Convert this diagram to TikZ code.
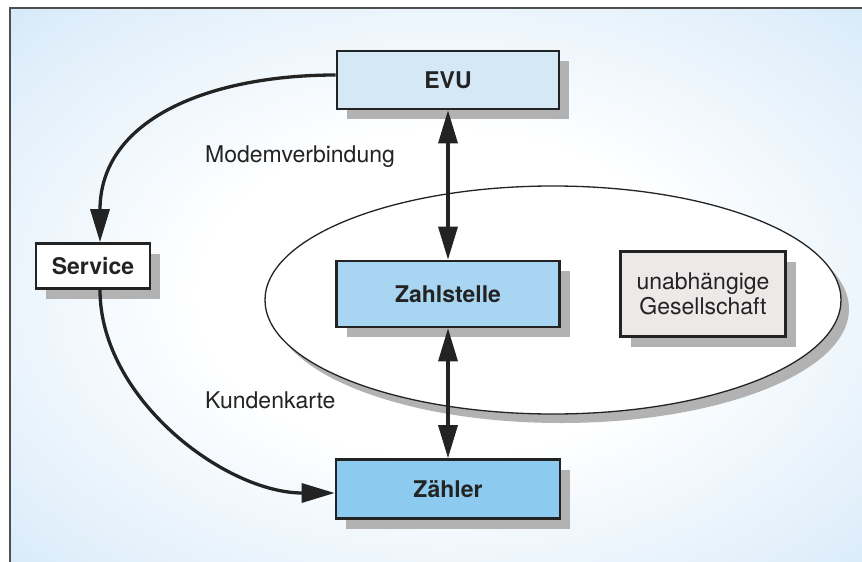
\documentclass[tikz,border=0pt]{standalone}
\usepackage{fontspec}
\setmainfont{TeX Gyre Heros}
\usetikzlibrary{arrows.meta}
\usetikzlibrary{shadows}
\usetikzlibrary{shapes.geometric}

\definecolor{bgblue}{RGB}{160,205,240}
\definecolor{evublue}{RGB}{212,232,246}
\definecolor{zahlblue}{RGB}{168,213,242}
\definecolor{zaehlerblue}{RGB}{140,202,240}
\definecolor{firmgray}{RGB}{236,233,232}
\definecolor{ink}{RGB}{35,35,35}
\pgfdeclareradialshading{bgshade}{\pgfpoint{0bp}{0bp}}{color(0bp)=(white); color(14bp)=(white);
  color(32bp)=(bgblue!35!white); color(50bp)=(bgblue!80!white); color(70bp)=(bgblue); color(100bp)=(bgblue)}

\begin{document}
\begin{tikzpicture}[x=1pt, y=-1pt,
  font=\fontsize{23}{25}\selectfont,
  >={Triangle[length=33pt,width=19pt]},
  box/.style={draw=ink, line width=2.6pt, text=ink, inner sep=0pt,
    font=\fontsize{23}{25}\selectfont\bfseries,
    drop shadow={shadow xshift=10pt, shadow yshift=-10pt, fill=gray!60, opacity=1}},
  link/.style={ink, line width=3.3pt},
  linklabel/.style={text=ink, inner sep=0pt, anchor=base west}]
\useasboundingbox (0,0) rectangle (862,562);
% background and frame
\begin{scope}
\clip (0,0) rectangle (862,562);
\shade[shading=bgshade] (10,8) rectangle (880,580);
\draw[ink!80, line width=1.5pt] (10,580) |- (880,8);
\end{scope}
% independent company
\node[ellipse, draw=ink, line width=1.3pt, fill=white, inner sep=0pt,
  minimum width=576pt, minimum height=228pt,
  drop shadow={shadow xshift=8pt, shadow yshift=-9pt, fill=gray!60, opacity=1}] (firma) at (553,300) {};
% boxes
\node[box, fill=evublue, minimum width=222pt, minimum height=58pt] (evu) at (448,80) {EVU};
\node[box, fill=white, minimum width=114pt, minimum height=45pt] (service) at (93,266) {Service};
\node[box, fill=zahlblue, minimum width=223pt, minimum height=66pt] (zahl) at (448,294) {Zahlstelle};
\node[box, fill=firmgray, font=\fontsize{23}{25}\selectfont, align=center,
  minimum width=165pt, minimum height=85pt] (ges) at (703,294) {unabhängige\\Gesellschaft};
\node[box, fill=zaehlerblue, minimum width=224pt, minimum height=59pt] (zaehler) at (448,489) {Zähler};
% labels
\node[linklabel] (modem) at (205,162) {Modemverbindung};
\node[linklabel] (karte) at (205,408) {Kundenkarte};
% connections
\draw[link, <->] (evu) -- (zahl);
\draw[link, <->] (zahl) -- (zaehler);
\draw[link, ->] ([yshift=5pt]evu.west) to[out=180, in=90, looseness=1.1] ([xshift=7pt]service.north);
\draw[link, ->] ([xshift=7pt]service.south) to[out=-90, in=180, looseness=0.9] ([yshift=-4pt]zaehler.west);
\end{tikzpicture}
\end{document}
